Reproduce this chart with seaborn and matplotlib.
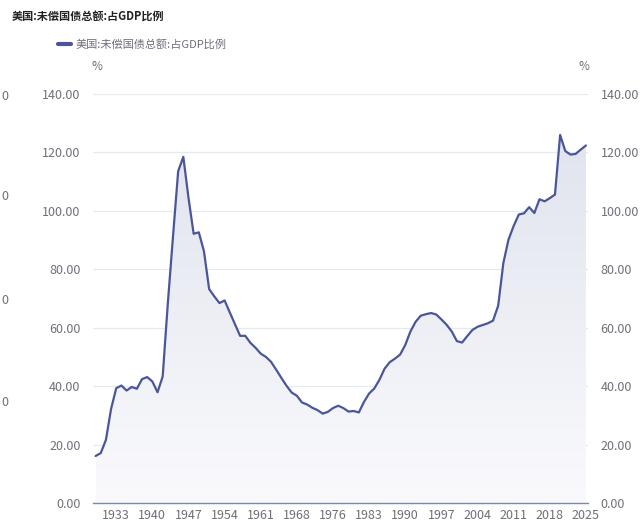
import numpy as np
import pandas as pd
import matplotlib
matplotlib.use("Agg")
import matplotlib.pyplot as plt
from matplotlib.colors import LinearSegmentedColormap
from matplotlib.patches import PathPatch
import seaborn as sns

# ── Data ──────────────────────────────────────────────────────
years = [1929, 1930, 1931, 1932, 1933, 1934, 1935, 1936, 1937, 1938,
         1939, 1940, 1941, 1942, 1943, 1944, 1945, 1946, 1947, 1948,
         1949, 1950, 1951, 1952, 1953, 1954, 1955, 1956, 1957, 1958,
         1959, 1960, 1961, 1962, 1963, 1964, 1965, 1966, 1967, 1968,
         1969, 1970, 1971, 1973, 1974, 1975, 1976, 1977, 1978, 1979,
         1980, 1981, 1982, 1983, 1984, 1985, 1986, 1987, 1988, 1989,
         1990, 1991, 1992, 1993, 1994, 1995, 1996, 1997, 1998, 1999,
         2000, 2001, 2002, 2003, 2004, 2005, 2006, 2007, 2008, 2009,
         2010, 2011, 2012, 2013, 2014, 2015, 2016, 2017, 2018, 2019,
         2020, 2021, 2022, 2023, 2024, 2025]
debt_pct = [16.2, 17.2, 21.7, 32.3, 39.4, 40.3, 38.6, 39.8, 39.2, 42.5,
            43.2, 41.7, 38.0, 43.4, 68.5, 91.3, 113.6, 118.5, 104.5, 92.2,
            92.7, 86.2, 73.3, 70.8, 68.5, 69.4, 65.3, 61.3, 57.3, 57.3,
            54.9, 53.2, 51.2, 50.1, 48.4, 45.7, 42.9, 40.2, 37.9, 36.8,
            34.5, 33.8, 32.7, 31.9, 30.7, 31.3, 32.6, 33.4, 32.6, 31.4,
            31.6, 31.1, 34.7, 37.6, 39.3, 42.3, 46.1, 48.3, 49.5, 50.9,
            54.2, 58.8, 62.1, 64.2, 64.7, 65.1, 64.6, 62.9, 61.1, 58.8,
            55.5, 55.0, 57.2, 59.3, 60.4, 61.0, 61.6, 62.5, 67.6, 82.2,
            90.2, 94.9, 98.8, 99.2, 101.3, 99.3, 104.0, 103.3, 104.4, 105.6,
            126.0, 120.5, 119.3, 119.5, 121.0, 122.4]
y_ticks = [0, 20, 40, 60, 80, 100, 120, 140]
SERIES = "美国:未偿国债总额:占GDP比例"

# ── Style ─────────────────────────────────────────────────────
sns.set_theme(style="white")
plt.rcParams["font.family"] = ["Noto Sans CJK SC", "DejaVu Sans"]

LINE = "#4B5699"
GRID = "#E6E8F2"
TXT = "#6E7079"

df = pd.DataFrame({"idx": np.arange(len(years)), "year": years, "pct": debt_pct})

fig = plt.figure(figsize=(6.4, 5.3), dpi=100)
ax = fig.add_axes([93 / 640, 1 - 503.4 / 530, (588 - 93) / 640, (503.4 - 94) / 530])

sns.lineplot(data=df, x="idx", y="pct", ax=ax, color=LINE, linewidth=1.6,
             label=SERIES, zorder=3)

# gradient area under the line
poly = ax.fill_between(df["idx"], df["pct"], 0, color="none")
clip = PathPatch(poly.get_paths()[0], transform=ax.transData,
                 facecolor="none", edgecolor="none")
ax.add_patch(clip)
cmap = LinearSegmentedColormap.from_list("fade", ["#FAFAFD", "#E1E4EE"])
grad = np.linspace(0, 1, 256).reshape(-1, 1)
im = ax.imshow(grad, extent=[0, len(years) - 1, 0, max(debt_pct)],
               origin="lower", aspect="auto", cmap=cmap, zorder=1)
im.set_clip_path(clip)

ax.set_xlim(-0.5, len(years) - 1 + 0.4)
ax.set_ylim(0, 140)
ax.set_yticks(y_ticks)
ax.set_yticklabels([f"{v:.2f}" for v in y_ticks])
tick_idx = list(range(4, len(years), 7))
ax.set_xticks(tick_idx)
ax.set_xticklabels([str(years[i]) for i in tick_idx])
ax.grid(axis="y", color=GRID, linewidth=0.9, zorder=0)
ax.set_axisbelow(True)
ax.set_xlabel("")
ax.set_ylabel("")
for s in ["top", "right", "left"]:
    ax.spines[s].set_visible(False)
ax.spines["bottom"].set_color("#7C86B0")
ax.spines["bottom"].set_linewidth(1.0)
ax.tick_params(axis="both", length=0, labelsize=9, colors=TXT)
ax.tick_params(axis="y", pad=9)
ax.tick_params(axis="x", pad=4)

ax2 = ax.twinx()
ax2.set_ylim(0, 140)
ax2.set_yticks(y_ticks)
ax2.set_yticklabels([f"{v:.2f}" for v in y_ticks])
ax2.tick_params(axis="y", length=0, labelsize=9, colors=TXT, pad=9)
for s in ax2.spines.values():
    s.set_visible(False)
ax2.grid(False)

# legend & titles
ax.legend(loc="center left", bbox_to_anchor=(48 / 640, 1 - 44 / 530),
          bbox_transform=fig.transFigure, frameon=False, fontsize=8,
          handlelength=1.2, handletextpad=0.4, labelcolor=TXT)
for line in ax.get_legend().get_lines():
    line.set_linewidth(3)

fig.text(12 / 640, 1 - 16 / 530, SERIES, fontsize=8, fontweight="bold",
         color="#222222", va="center", ha="left")
fig.text(97 / 640, 1 - 66 / 530, "%", fontsize=8.5, color=TXT, ha="center", va="center")
fig.text(584 / 640, 1 - 66 / 530, "%", fontsize=8.5, color=TXT, ha="center", va="center")

# labels of a neighbouring axis showing at the very left edge
for ypix in [97, 197, 300, 403]:
    fig.text(1 / 640, 1 - ypix / 530, "0", fontsize=9, color=TXT,
             ha="left", va="center")

fig.savefig("out.png", dpi=100)
